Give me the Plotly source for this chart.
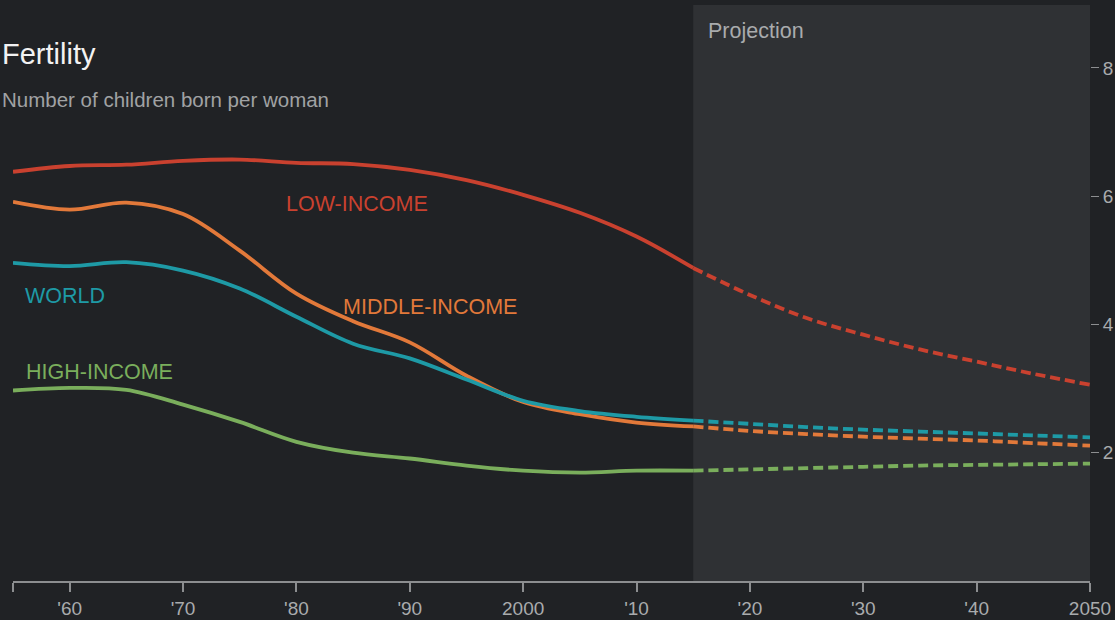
import plotly.graph_objects as go

years_hist = [1955, 1960, 1965, 1970, 1975, 1980, 1985, 1990, 1995, 2000, 2005, 2010, 2015]
years_proj = [2015, 2020, 2025, 2030, 2035, 2040, 2045, 2050]

low_hist = [6.38, 6.47, 6.49, 6.55, 6.57, 6.52, 6.50, 6.41, 6.25, 6.02, 5.74, 5.37, 4.88]
low_proj = [4.88, 4.46, 4.10, 3.84, 3.61, 3.42, 3.23, 3.06]

mid_hist = [5.91, 5.79, 5.90, 5.72, 5.15, 4.48, 4.05, 3.72, 3.20, 2.79, 2.60, 2.47, 2.41]
mid_proj = [2.41, 2.34, 2.29, 2.25, 2.22, 2.19, 2.15, 2.11]

world_hist = [4.96, 4.91, 4.97, 4.84, 4.56, 4.12, 3.70, 3.47, 3.14, 2.81, 2.65, 2.56, 2.50]
world_proj = [2.50, 2.45, 2.40, 2.36, 2.33, 2.30, 2.27, 2.24]

high_hist = [2.97, 3.01, 2.98, 2.75, 2.48, 2.17, 2.00, 1.91, 1.80, 1.72, 1.69, 1.72, 1.72]
high_proj = [1.72, 1.74, 1.76, 1.78, 1.80, 1.81, 1.82, 1.83]

series = [
    ("LOW-INCOME", low_hist, low_proj, "#c9412f"),
    ("MIDDLE-INCOME", mid_hist, mid_proj, "#e2793a"),
    ("WORLD", world_hist, world_proj, "#1e9aa6"),
    ("HIGH-INCOME", high_hist, high_proj, "#7aae5c"),
]

label_pos = {
    "LOW-INCOME": (1985.3, 5.88),
    "MIDDLE-INCOME": (1991.8, 4.27),
    "WORLD": (1959.6, 4.45),
    "HIGH-INCOME": (1962.6, 3.26),
}

tick_vals = [1955, 1960, 1970, 1980, 1990, 2000, 2010, 2020, 2030, 2040, 2050]
tick_text = ["", "'60", "'70", "'80", "'90", "2000", "'10", "'20", "'30", "'40", "2050"]

fig = go.Figure()

fig.add_shape(type="rect", xref="x", yref="paper", x0=2015, x1=2050, y0=0, y1=1,
              fillcolor="#2f3134", line_width=0, layer="below")

for name, h, p, c in series:
    fig.add_trace(go.Scatter(x=years_hist, y=h, mode="lines", line=dict(color=c, width=3.8, shape="spline", smoothing=1.0),
                             showlegend=False, hoverinfo="skip"))
    fig.add_trace(go.Scatter(x=years_proj, y=p, mode="lines", line=dict(color=c, width=3.8, shape="spline", dash="10px,5px"),
                             showlegend=False, hoverinfo="skip"))
    lx, ly = label_pos[name]
    fig.add_annotation(x=lx, y=ly, text=name, showarrow=False, font=dict(color=c, size=21.5, family="Liberation Sans, Arial"),
                       xanchor="center", yanchor="middle")

fig.add_annotation(x=2016.1, y=8.58, text="Projection", showarrow=False, xanchor="left", yanchor="middle",
                   font=dict(color="#a9abad", size=21.5, family="Liberation Sans, Arial"))

fig.add_annotation(xref="paper", yref="paper", x=-0.0125, y=0.915, text="Fertility", showarrow=False,
                   xanchor="left", yanchor="middle", font=dict(color="#f2f2f2", size=29, family="Liberation Sans, Arial"))
fig.add_annotation(xref="paper", yref="paper", x=-0.0125, y=0.836, text="Number of children born per woman", showarrow=False,
                   xanchor="left", yanchor="middle", font=dict(color="#a0a2a4", size=20.5, family="Liberation Sans, Arial"))

fig.update_layout(
    width=1115, height=620,
    margin=dict(l=13, r=25, t=5, b=39),
    paper_bgcolor="#202225", plot_bgcolor="#202225",
    xaxis=dict(range=[1955, 2050], tickvals=tick_vals, ticktext=tick_text, showgrid=False, zeroline=False,
               automargin=False,
               showline=True, linecolor="#8c8e90", linewidth=2, ticks="outside", ticklen=9, tickcolor="#8c8e90",
               tickwidth=2, tickfont=dict(color="#a9abad", size=19, family="Liberation Sans Narrow, Liberation Sans, Arial")),
    yaxis=dict(range=[0, 8.98], side="right", tickvals=[2, 4, 6, 8], showgrid=False, zeroline=False, showline=False,
               automargin=False,
               ticks="outside", ticklen=8, tickcolor="#8c8e90", tickwidth=1,
               tickfont=dict(color="#a9abad", size=19, family="Liberation Sans Narrow, Liberation Sans, Arial")),
)

fig.write_html("out.html", config={"displayModeBar": False},
               post_script="document.body.style.margin='0';document.body.style.overflow='hidden';document.body.style.background='#202225';")
